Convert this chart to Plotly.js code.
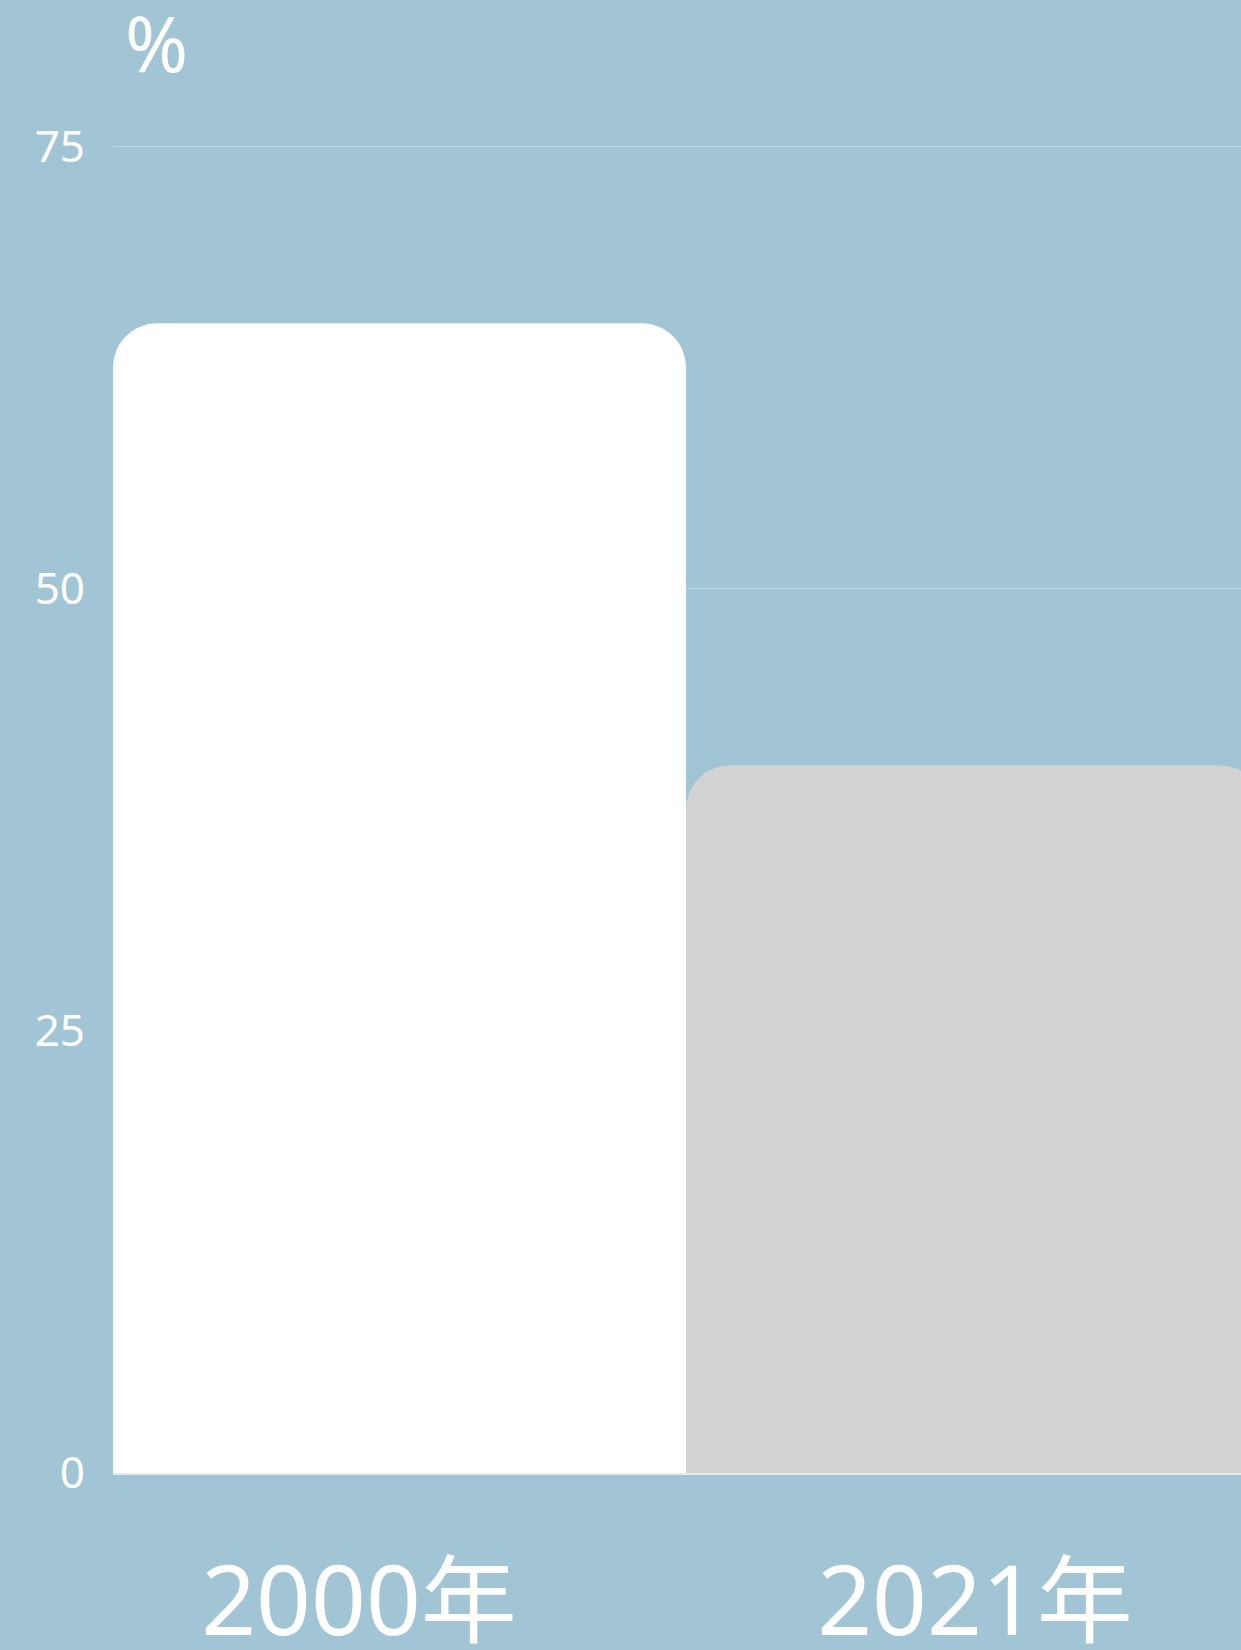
<!DOCTYPE html>
<html>
<head>
<meta charset="utf-8">
<script src="https://cdn.plot.ly/plotly-3.0.1.min.js"></script>
<style>
html,body{margin:0;padding:0;background:#a1c5d4;overflow:hidden;}
#chart{width:1241px;height:1650px;}
</style>
</head>
<body>
<div id="chart"></div>
<script>
const categories = ['2000年', '2021年'];
const values = [65, 40];
const barColors = ['#ffffff', '#d3d3d3'];
const yTicks = [0, 25, 50, 75];
const unitLabel = '%';

const FONT = '"Noto Sans", "Noto Sans CJK JP", sans-serif';

const trace = {
  type: 'bar',
  x: categories,
  y: values,
  marker: { color: barColors, cornerradius: 44, line: { width: 0 } },
  offset: [-0.3994, -0.4692],
  width: [0.9302, 0.9383],
  hoverinfo: 'skip'
};

const layout = {
  width: 1241,
  height: 1650,
  margin: { l: 113, r: 0, t: 58, b: 177, pad: 0 },
  paper_bgcolor: '#a1c5d4',
  plot_bgcolor: '#a1c5d4',
  showlegend: false,
  font: { family: FONT, color: '#ffffff' },
  xaxis: {
    type: 'category',
    range: [-0.3994, 1.4318],
    showgrid: false,
    zeroline: false,
    showline: true,
    linecolor: '#e2ebee',
    linewidth: 2,
    ticks: '',
    tickfont: { size: 96, color: '#ffffff', family: FONT },
    ticklabelstandoff: 45,
    fixedrange: true
  },
  yaxis: {
    range: [0, 80],
    tickvals: yTicks,
    ticktext: yTicks.map(String),
    showgrid: true,
    gridcolor: 'rgba(255,255,255,0.35)',
    gridwidth: 1.5,
    zeroline: false,
    showline: false,
    ticks: '',
    tickfont: { size: 44, color: '#ffffff', family: FONT },
    ticklabelstandoff: 27,
    fixedrange: true
  },
  annotations: [{
    text: unitLabel,
    xref: 'paper', yref: 'paper',
    x: 0.0390, y: 1.0111,
    xanchor: 'center', yanchor: 'middle',
    showarrow: false,
    font: { size: 76, color: '#ffffff', family: FONT }
  }]
};

Plotly.newPlot('chart', [trace], layout, { displayModeBar: false, staticPlot: true });
</script>
</body>
</html>
